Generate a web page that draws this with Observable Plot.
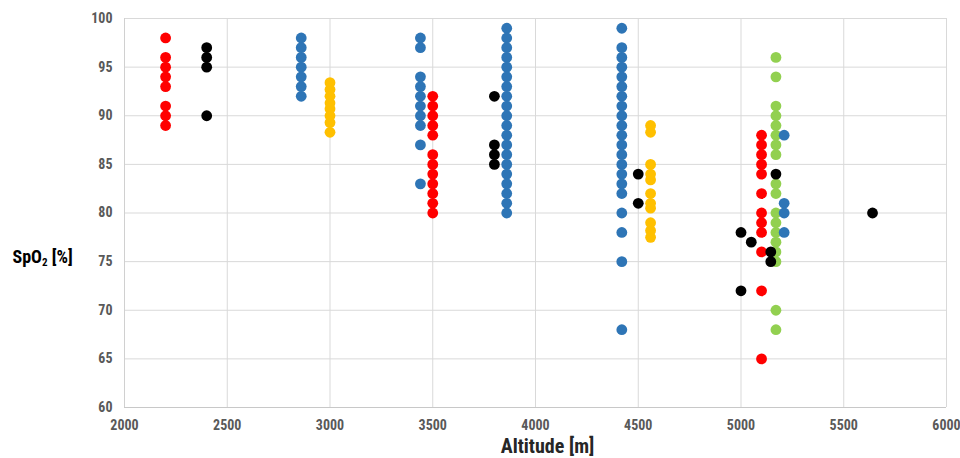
<!DOCTYPE html>
<html><head><meta charset="utf-8">
<script src="https://cdn.jsdelivr.net/npm/d3@7"></script>
<script src="https://cdn.jsdelivr.net/npm/@observablehq/plot@0.6"></script>
<style>body{margin:0;background:#fff} svg{display:block}</style>
</head><body><div id="chart"></div>
<script>
// Axis ticks
const xTicks = [2000, 2500, 3000, 3500, 4000, 4500, 5000, 5500, 6000];
const yTicks = [60, 65, 70, 75, 80, 85, 90, 95, 100];

// Series: [altitude, SpO2 values at that altitude]
const blue = [
  [2860, [98, 97, 96, 95, 94, 93, 92]],
  [3440, [98, 97, 94, 93, 92, 91, 90, 89, 87, 83]],
  [3860, [99, 98, 97, 96, 95, 94, 93, 92, 91, 90, 89, 88, 87, 86, 85, 84, 83, 82, 81, 80]],
  [4420, [99, 97, 96, 95, 94, 93, 92, 91, 90, 89, 88, 87, 86, 85, 84, 83, 82, 80, 78, 75, 68]],
  [5210, [88, 81, 80, 78]]
];
const yellow = [
  [3000, [93.4, 92.7, 92.0, 91.3, 90.7, 90.0, 89.3, 88.3]],
  [4560, [89, 88.3, 85, 84, 83.4, 82, 81, 80.5, 79, 78.2, 77.5]]
];
const red = [
  [2200, [98, 96, 95, 94, 93, 91, 90, 89]],
  [3500, [92, 91, 90, 89, 88, 86, 85, 84, 83, 82, 81, 80]],
  [5100, [88, 87, 86, 85, 84, 82, 80, 79, 78, 76, 72, 65]]
];
const green = [
  [5170, [96, 94, 91, 90, 89, 88, 87, 86, 83, 82, 80, 79, 78, 77, 76, 75, 70, 68]]
];
const black = [
  [2400, [97, 96, 95, 90]],
  [3800, [92, 87, 86, 85]],
  [4500, [84, 81]],
  [5000, [78, 72]],
  [5050, [77]],
  [5145, [76, 75]],
  [5170, [84]],
  [5640, [80]]
];

const seriesNames = ["S-green", "S-blue", "S-yellow", "S-red", "S-black"];
const seriesData = [green, blue, yellow, red, black];
const seriesColors = ["#92D050", "#2E75B6", "#FFC000", "#FF0000", "#000000"];

const rows = seriesData.flatMap((groups, i) =>
  groups.flatMap(([alt, vals]) => vals.map(v => ({series: seriesNames[i], alt, spo2: v})))
);

const font = "'Liberation Sans Narrow', 'Arial Narrow', 'Roboto Condensed', sans-serif";

const chart = Plot.plot({
  width: 960,
  height: 458,
  marginLeft: 124,
  marginRight: 14,
  marginTop: 18,
  marginBottom: 51,
  style: {fontFamily: font, background: "#fff"},
  x: {domain: [2000, 6000]},
  y: {domain: [60, 100]},
  color: {type: "ordinal", domain: seriesNames, range: seriesColors},
  marks: [
    Plot.gridX(xTicks.slice(1), {stroke: "#d9d9d9", strokeOpacity: 1}),
    Plot.gridY(yTicks.slice(1), {stroke: "#d9d9d9", strokeOpacity: 1}),
    Plot.ruleX([2000], {stroke: "#d0d0d0"}),
    Plot.ruleY([60], {stroke: "#c8c8c8"}),
    Plot.axisX({ticks: xTicks, tickFormat: d3.format("d"), tickSize: 0, tickPadding: 13, label: null, fontSize: 14, fontWeight: "bold", fill: "#595959"}),
    Plot.axisY({ticks: yTicks, tickFormat: d3.format("d"), tickSize: 0, tickPadding: 12, label: null, fontSize: 14, fontWeight: "bold", fill: "#595959"}),
    Plot.dot(rows, {x: "alt", y: "spo2", fill: "series", r: 5.4}),
    Plot.text(["Altitude [m]"], {frameAnchor: "bottom", dx: 12, dy: 39, fontSize: 20, fontWeight: "bold", fill: "#262626", lineAnchor: "middle"}),
    Plot.text(["SpO2 [%]"], {frameAnchor: "left", textAnchor: "start", dx: -112, dy: 44, fontSize: 18, fontWeight: "bold", fill: "#000", lineAnchor: "middle", className: "ytitle"})
  ]
});

document.getElementById("chart").appendChild(chart);

// Subscript the "2" in the y-axis title
const yt = chart.querySelector(".ytitle text");
if (yt) {
  yt.textContent = "";
  const ns = "http://www.w3.org/2000/svg";
  const a = document.createElementNS(ns, "tspan"); a.textContent = "SpO";
  const b = document.createElementNS(ns, "tspan"); b.textContent = "2"; b.setAttribute("font-size", "11"); b.setAttribute("dy", "3");
  const c = document.createElementNS(ns, "tspan"); c.textContent = " [%]"; c.setAttribute("dy", "-3");
  yt.append(a, b, c);
}
</script>
</body></html>
